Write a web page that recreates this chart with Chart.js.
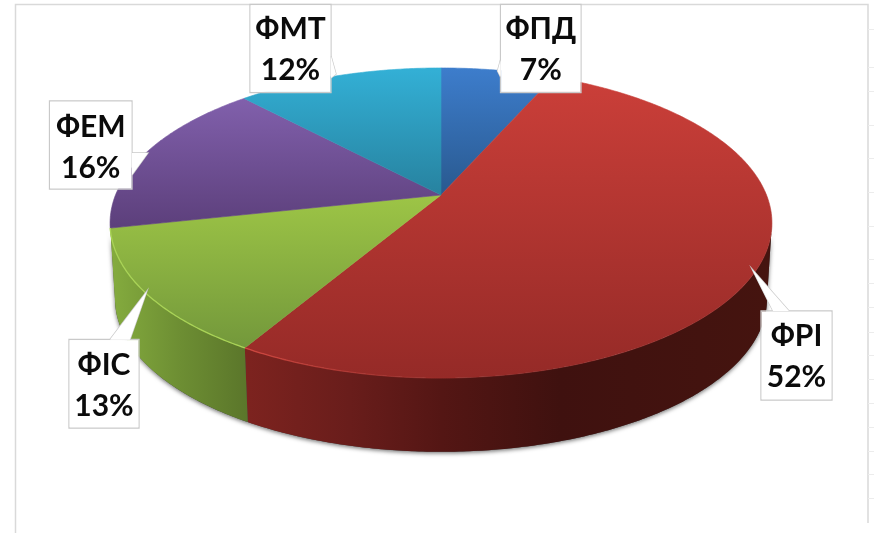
<!DOCTYPE html>
<html><head><meta charset="utf-8">
<script src="https://cdn.jsdelivr.net/npm/chart.js@4"></script>
<style>html,body{margin:0;padding:0;background:#fff}canvas{display:block}</style>
</head><body><canvas id="c" width="874" height="533"></canvas>
<script>
// Data
const categories = ['ФПД','ФРІ','ФІС','ФЕМ','ФМТ'];
const shares = [6.6,51.9,13.1,16.4,12];
const baseColors = ['#3d7dcc','#cb3f39','#9dc546','#8160ac','#33b0d6'];
const darkColors = ['#29598f','#952a27','#73983b','#5c3f7b','#27829f'];

// Style / layout
const wallStops = {
  1:[[246,'#7d231f'],[350,'#691d1b'],[441,'#541614'],[560,'#3f110f'],[772,'#45140f']],
  2:[[112,'#84ab3e'],[180,'#6d8e33'],[250,'#5a752a']]
};
const rimColors = {1:['rgba(214,74,66,.9)','rgba(180,50,46,0)',246,480],2:['#a9d356','#a9d356',110,246]};
const boxes = [
 {x:500.5,y:4.5,w:80.5,h:88,tx:[29,70],tail:[[500.5,60],[497.5,71],[500.5,77]]},
 {x:761,y:311,w:71,h:89,tx:[336,377],tail:[[789,311],[752,269],[773,311]]},
 {x:69,y:339.5,w:70,h:88.5,tx:[365,406],tail:[[110,339.5],[147,291],[130,339.5]]},
 {x:49.5,y:101,w:82.5,h:88,tx:[127,168],tail:[[132,153],[148,153],[132,175]]},
 {x:250,y:4.5,w:81,h:88,tx:[29,70],tail:[[331,56],[336,74],[331,78]]}
];
const edgeTicks = [29,67,91,125,158,192,226,259,283,307,332,355,379,403,427,451,474,498];
const P = {cx:441,cy:195,a:150,b:325.5,k:0.1806,cy2:271.5,s:0.985};

function topPt(t){const u=Math.cos(t),v=Math.sin(t),d=1-P.k*v;return [P.cx+P.b*u/d,P.cy+P.a*v/d];}
function botPt(t){const u=Math.cos(t),v=Math.sin(t),d=1-P.k*v;return [P.cx+P.s*P.b*u/d,P.cy2+P.s*P.a*v/d];}
function arcPts(fn,t0,t1){const n=Math.max(2,Math.ceil(Math.abs(t1-t0)/0.01)),o=[];
  for(let i=0;i<=n;i++)o.push(fn(t0+(t1-t0)*i/n));return o;}
function trace(ctx,pts,first){pts.forEach((p,i)=>{(first&&i===0)?ctx.moveTo(p[0],p[1]):ctx.lineTo(p[0],p[1]);});}

// Slices keep the library's own angles; only their projection differs.
Chart.ArcElement.prototype.draw = function(ctx){
  const i=this.$context.index,pts=arcPts(topPt,this.startAngle,this.endAngle);
  const ys=pts.map(p=>p[1]).concat(P.cy);
  const g=ctx.createLinearGradient(0,Math.min(...ys),0,Math.max(...ys));
  g.addColorStop(0,this.options.backgroundColor);g.addColorStop(1,darkColors[i]);
  ctx.save();ctx.beginPath();ctx.moveTo(P.cx,P.cy);trace(ctx,pts,false);ctx.closePath();
  ctx.fillStyle=g;ctx.fill();ctx.strokeStyle=g;ctx.lineWidth=0.6;ctx.stroke();ctx.restore();
};

const pie3d={id:'pie3d',
 beforeDraw(chart){const c=chart.ctx;c.save();c.strokeStyle='#d9d9d9';c.lineWidth=1.5;
   c.beginPath();c.moveTo(15.5,533);c.lineTo(15.5,4.5);c.lineTo(868,4.5);c.lineTo(868,523);c.stroke();
   c.lineWidth=1;c.strokeStyle='#ececec';c.beginPath();edgeTicks.forEach(y=>{c.moveTo(868,y+.5);c.lineTo(874,y+.5);});c.stroke();c.restore();},
 beforeDatasetsDraw(chart){
   const c=chart.ctx,arcs=chart.getDatasetMeta(0).data;
   const a0=Math.asin(P.k),a1=Math.PI-a0;
   // soft shadow beneath the wall
   c.save();c.shadowColor='rgba(0,0,0,.55)';c.shadowBlur=4;c.shadowOffsetY=1.5;c.fillStyle='#444';
   c.beginPath();trace(c,arcPts(botPt,a0,a1),true);trace(c,arcPts(topPt,a1,a0),false);c.closePath();c.fill();c.restore();
   arcs.forEach((el,i)=>{
     const s=Math.max(el.startAngle,a0),e=Math.min(el.endAngle,a1);
     if(e<=s||!wallStops[i])return;
     const st=wallStops[i],g=c.createLinearGradient(st[0][0],0,st[st.length-1][0],0);
     st.forEach(q=>g.addColorStop((q[0]-st[0][0])/(st[st.length-1][0]-st[0][0]),q[1]));
     c.beginPath();trace(c,arcPts(topPt,s,e),true);trace(c,arcPts(botPt,e,s),false);c.closePath();
     c.fillStyle=g;c.fill();
   });
 },
 afterDatasetsDraw(chart){
   const c=chart.ctx,arcs=chart.getDatasetMeta(0).data;
   arcs.forEach((el,i)=>{const r=rimColors[i];if(!r)return;
     const g=c.createLinearGradient(r[2],0,r[3],0);g.addColorStop(0,r[0]);g.addColorStop(1,r[1]);
     c.beginPath();trace(c,arcPts(topPt,Math.max(el.startAngle,0.2),el.endAngle),true);
     c.strokeStyle=g;c.lineWidth=1.3;c.stroke();});
   // callouts
   boxes.forEach((b,i)=>{
     c.save();c.fillStyle='#fff';c.strokeStyle='#c9c9c9';c.lineWidth=1.3;
     c.beginPath();c.rect(b.x,b.y,b.w,b.h);c.stroke();
     c.beginPath();trace(c,b.tail,true);c.closePath();c.fill();
     c.beginPath();trace(c,b.tail,true);c.stroke();
     c.fillRect(b.x+.6,b.y+.6,b.w-1.2,b.h-1.2);
     c.beginPath();trace(c,b.tail,true);c.closePath();c.fill();
     c.fillStyle='#0b0b0b';c.font='bold 30px Lato, sans-serif';c.textAlign='center';c.textBaseline='middle';
     const mx=b.x+b.w/2;
     c.fillText(categories[i],mx,b.tx[0]);c.fillText(Math.round(shares[i])+'%',mx,b.tx[1]);
     c.restore();});
 }};

new Chart(document.getElementById('c'),{
  type:'pie',
  data:{labels:categories,datasets:[{data:shares,backgroundColor:baseColors,borderWidth:0}]},
  options:{responsive:false,animation:false,
    layout:{padding:0},
    plugins:{legend:{display:false},tooltip:{enabled:false}}},
  plugins:[pie3d]
});
</script></body></html>
